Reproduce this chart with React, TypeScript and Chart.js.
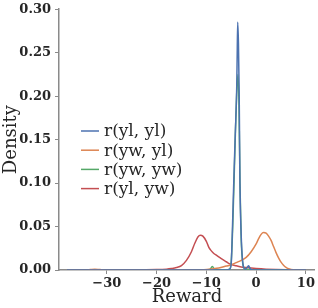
import React, { useEffect, useRef } from "react";
import { Chart, registerables } from "chart.js";

Chart.register(...registerables);

const seriesLabels = ["r(yl, yl)", "r(yw, yl)", "r(yw, yw)", "r(yl, yw)"];
const seriesColors = ["#4C72B0", "#DD8452", "#55A868", "#C44E52"];

const xTicks = [-30, -20, -10, 0, 10];
const yTicks = [0, 0.05, 0.1, 0.15, 0.2, 0.25, 0.3];

// r(yl, yl)
const blueX = [-38, -30, -20, -10, -6, -5.3, -5.0, -4.8, -4.5, -4.2, -3.9, -3.8, -3.7, -3.55, -3.4, -3.25, -3.0, -2.75, -2.5, -2.2, -1.8, -1.5, -1.25, -0.9, 0, 5, 10];
const blueY = [0, 0, 0, 0, 0, 0.001, 0.008, 0.04, 0.1, 0.155, 0.21, 0.25, 0.285, 0.26, 0.2, 0.1, 0.04, 0.012, 0.003, 0.001, 0.003, 0.005, 0.002, 0.0003, 0, 0, 0];

// r(yw, yl)
const orangeX = [-38, -34, -33.3, -32.4, -31.4, -30, -20, -12, -10.5, -9, -7.5, -6, -5, -4, -3, -2, -1, 0, 0.5, 1, 1.5, 2, 2.5, 3, 3.5, 4, 4.5, 5, 5.5, 6, 6.5, 7, 8, 9, 10];
const orangeY = [0, 0, 0.0005, 0.001, 0.0005, 0, 0, 0, 0.0004, 0.0012, 0.0022, 0.0045, 0.006, 0.0085, 0.011, 0.0145, 0.021, 0.03, 0.036, 0.041, 0.043, 0.0423, 0.039, 0.034, 0.027, 0.02, 0.014, 0.009, 0.0055, 0.003, 0.0015, 0.0007, 0.0001, 0, 0];

// r(yw, yw)
const greenX = [-38, -20, -10, -9.3, -8.8, -8.3, -7.5, -6, -5.3, -5.0, -4.7, -4.4, -4.1, -3.85, -3.65, -3.45, -3.25, -3.0, -2.7, -2.4, -2.0, -1.5, 0, 10];
const greenY = [0, 0, 0, 0.0005, 0.004, 0.0005, 0, 0, 0.001, 0.01, 0.05, 0.11, 0.17, 0.21, 0.225, 0.19, 0.1, 0.035, 0.008, 0.002, 0.001, 0.0005, 0, 0];

// r(yl, yw)
const redX = [-37.5, -37, -30, -25, -20, -18, -17, -16, -15, -14, -13, -12.3, -11.7, -11.2, -10.7, -10, -9.5, -9, -8.5, -8, -7, -6, -5.2, -4, -3, -2, -1, 0, 1, 2, 4, 6, 8, 9];
const redY = [0, 0.0002, 0.0003, 0.0003, 0.0005, 0.001, 0.0017, 0.0028, 0.005, 0.011, 0.021, 0.031, 0.038, 0.04, 0.039, 0.033, 0.026, 0.022, 0.019, 0.017, 0.013, 0.0095, 0.0068, 0.0048, 0.0035, 0.0028, 0.0022, 0.0017, 0.0013, 0.001, 0.0006, 0.0003, 0.0001, 0];

const seriesX = [blueX, orangeX, greenX, redX];
const seriesY = [blueY, orangeY, greenY, redY];

const TEXT = "#262626";
const AXIS = "#8a8a8a";
const SERIF = "'DejaVu Serif', serif";

const legendPlugin = {
  id: "customLegend",
  afterDraw(chart: any) {
    const ctx = chart.ctx;
    ctx.save();
    ctx.font = `17px ${SERIF}`;
    ctx.textBaseline = "middle";
    ctx.textAlign = "left";
    const x0 = 81;
    const y0 = 131;
    const step = 19.2;
    seriesLabels.forEach((lab, i) => {
      const y = y0 + i * step;
      ctx.strokeStyle = seriesColors[i];
      ctx.lineWidth = 1.5;
      ctx.beginPath();
      ctx.moveTo(x0, y);
      ctx.lineTo(x0 + 18, y);
      ctx.stroke();
      ctx.fillStyle = TEXT;
      ctx.fillText(lab, x0 + 23, y + 1);
    });
    ctx.restore();
  },
};

export default function App() {
  const ref = useRef<HTMLCanvasElement | null>(null);
  useEffect(() => {
    if (!ref.current) return;
    const datasets = seriesLabels.map((lab, i) => ({
      label: lab,
      data: seriesX[i].map((x, j) => ({ x, y: seriesY[i][j] })),
      borderColor: seriesColors[i],
      backgroundColor: seriesColors[i],
      borderWidth: 1.5,
      pointRadius: 0,
      cubicInterpolationMode: "monotone" as const,
      fill: false,
    }));
    const chart = new Chart(ref.current, {
      type: "line",
      data: { datasets },
      plugins: [legendPlugin],
      options: {
        animation: false,
        responsive: false,
        maintainAspectRatio: false,
        layout: { padding: { left: 0, right: 1, top: 0, bottom: 0 } },
        plugins: { legend: { display: false }, tooltip: { enabled: false } },
        scales: {
          x: {
            type: "linear",
            min: -39.6,
            max: 11.8,
            afterBuildTicks: (s: any) => {
              s.ticks = xTicks.map((v) => ({ value: v }));
            },
            afterFit: (s: any) => {
              s.height = 38;
            },
            grid: { display: true, drawOnChartArea: false, drawTicks: true, tickLength: 4, color: AXIS, lineWidth: 1 },
            border: { display: true, color: AXIS, width: 1.5 },
            ticks: {
              color: TEXT,
              padding: 3,
              maxRotation: 0,
              font: { family: SERIF, size: 13, weight: "bold", lineHeight: 1 },
              callback: (v: any) => (Number(v) < 0 ? "\u2212" + Math.abs(Number(v)) : String(v)),
            },
            title: {
              display: true,
              text: "Reward",
              color: TEXT,
              font: { family: SERIF, size: 18 },
              padding: { top: 0, bottom: 0 },
            },
          },
          y: {
            type: "linear",
            min: 0,
            max: 0.3,
            afterBuildTicks: (s: any) => {
              s.ticks = yTicks.map((v) => ({ value: v }));
            },
            afterFit: (s: any) => {
              s.width = 59;
            },
            grid: { display: true, drawOnChartArea: false, drawTicks: true, tickLength: 4, color: AXIS, lineWidth: 1 },
            border: { display: true, color: AXIS, width: 1.5 },
            ticks: {
              color: TEXT,
              padding: 4,
              font: { family: SERIF, size: 13, weight: "bold", lineHeight: 0.8 },
              callback: (v: any) => Number(v).toFixed(2),
            },
            title: {
              display: true,
              text: "Density",
              color: TEXT,
              font: { family: SERIF, size: 18 },
              padding: { top: 1, bottom: 0 },
            },
          },
        },
      },
    });
    return () => chart.destroy();
  }, []);
  return (
    <div style={{ position: "fixed", left: 0, top: 0, width: 318, height: 308, background: "#fff" }}>
      <canvas ref={ref} width={318} height={308} style={{ width: 318, height: 308, display: "block" }} />
    </div>
  );
}
